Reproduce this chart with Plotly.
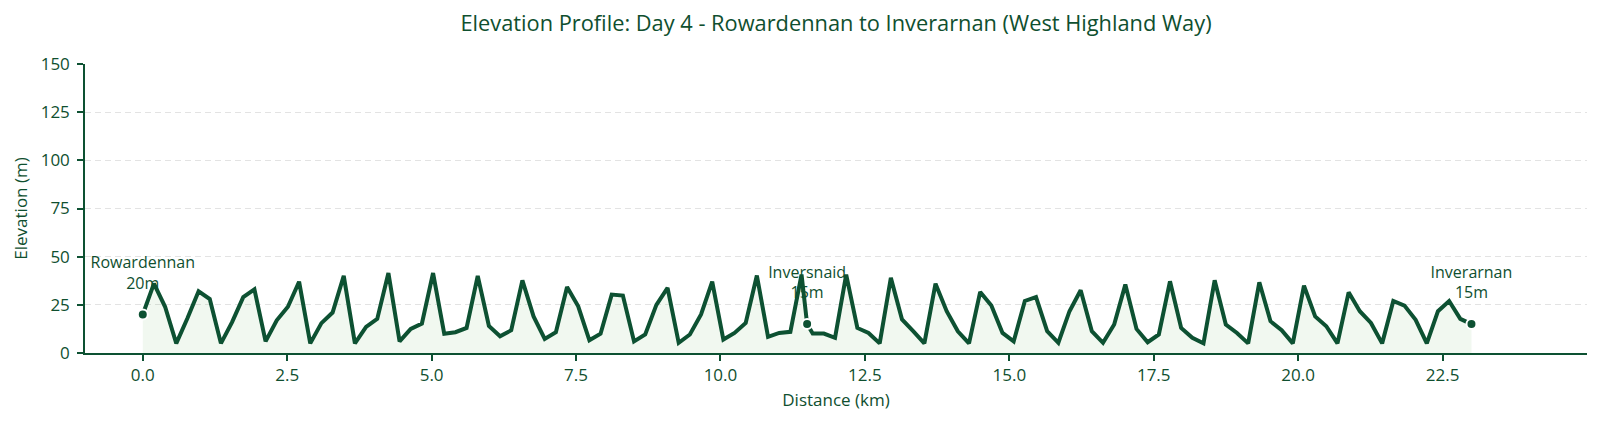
import numpy as np
import plotly.graph_objects as go

# ---- data -------------------------------------------------------------
n_points = 120
distance_km = np.linspace(0, 23, n_points)
elevation_m = [
    20, 36, 24, 5, 18, 32, 28, 5, 16, 29,
    33, 6, 17, 24, 37, 5, 15.5, 21, 40, 5,
    13.5, 17.7, 41.5, 6, 12.5, 15.3, 41.5, 10, 10.8, 13,
    40, 14, 8.7, 11.8, 37.7, 19, 7.3, 10.8, 34.3, 24.2,
    6.6, 10, 30.3, 29.8, 6, 9.6, 25, 33.8, 5.3, 9.6,
    20, 37, 7, 10.4, 15.6, 40.2, 8.4, 10.4, 11, 40.7,
    10.1, 10.1, 7.9, 40.7, 13, 10.4, 5, 39, 17.4, 11.3,
    5, 36, 21.7, 11.3, 5, 31.7, 24.6, 10.4, 6, 27,
    29, 11.3, 5.3, 21.7, 32.6, 11.3, 5.3, 14.8, 35.5, 12.5,
    5.6, 9.6, 37.2, 13, 7.9, 5, 37.7, 14.8, 10.4, 5,
    36.7, 16.5, 11.8, 5, 35, 19, 13.9, 5, 31.5, 21.7,
    15.6, 5, 27, 24.6, 17.2, 5, 21.7, 27, 17.7, 15,
]

landmark_names = ["Rowardennan", "Inversnaid", "Inverarnan"]
landmark_km = [0.0, 11.5, 23.0]
landmark_elev = [20, 15, 15]

x_ticks = [0, 2.5, 5, 7.5, 10, 12.5, 15, 17.5, 20, 22.5]
y_ticks = [0, 25, 50, 75, 100, 125, 150]

# merge landmarks into the profile (sorted by distance)
pts = {float(round(d, 6)): e for d, e in zip(distance_km, elevation_m)}
for d, e in zip(landmark_km, landmark_elev):
    pts[float(d)] = e
profile_x = sorted(pts)
profile_y = [pts[k] for k in profile_x]

# ---- style ------------------------------------------------------------
GREEN = "#0d5132"
TEXT = "#0f4f2f"
FONT = "Open Sans"

labels = [f"{n}<br>{e}m" for n, e in zip(landmark_names, landmark_elev)]

fig = go.Figure()

# labels (drawn first so the profile line passes over them)
fig.add_trace(go.Scatter(
    x=landmark_km, y=landmark_elev, mode="markers+text",
    text=labels, textposition="top center",
    textfont=dict(family=FONT, size=16, color=TEXT),
    marker=dict(size=33, color="rgba(0,0,0,0)"),
    hoverinfo="skip", showlegend=False,
))

# elevation profile
fig.add_trace(go.Scatter(
    x=profile_x, y=profile_y, mode="lines",
    line=dict(color=GREEN, width=4),
    fill="tozeroy", fillcolor="rgba(76,160,60,0.08)",
    hoverinfo="skip", showlegend=False,
))

# landmark markers
fig.add_trace(go.Scatter(
    x=landmark_km, y=landmark_elev, mode="markers",
    marker=dict(size=10, color=GREEN, line=dict(color="white", width=2)),
    hoverinfo="skip", showlegend=False,
))

fig.update_layout(
    width=1600, height=426,
    margin=dict(l=85, r=13, t=64, b=73),
    paper_bgcolor="white", plot_bgcolor="white",
    font=dict(family=FONT, size=16, color=TEXT),
    title=dict(
        text="Elevation Profile: Day 4 - Rowardennan to Inverarnan (West Highland Way)",
        x=0.5, xref="paper", xanchor="center",
        y=1 - 23 / 426, yref="container", yanchor="middle",
        font=dict(family=FONT, size=21.8, color=TEXT),
    ),
    xaxis=dict(
        range=[-1, 25], tickvals=x_ticks,
        ticktext=[f"{v:.1f}" for v in x_ticks],
        showgrid=False, zeroline=False,
        showline=True, linecolor=GREEN, linewidth=1.5,
        ticks="outside", ticklen=6, tickcolor=GREEN, tickwidth=1.5,
        tickfont=dict(family=FONT, size=17, color=TEXT),
        title=dict(text="Distance (km)", font=dict(family=FONT, size=17, color=TEXT), standoff=9),
    ),
    yaxis=dict(
        range=[0, 150], tickvals=y_ticks,
        showgrid=True, gridcolor="#e3e3e3", gridwidth=1, griddash="6px,4px",
        zeroline=False,
        showline=True, linecolor=GREEN, linewidth=1.5,
        ticks="outside", ticklen=6, tickcolor=GREEN, tickwidth=1.5,
        ticklabelstandoff=4,
        tickfont=dict(family=FONT, size=17, color=TEXT),
        title=dict(text="Elevation (m)", font=dict(family=FONT, size=17, color=TEXT), standoff=9),
    ),
)

fig.write_html("out.html")
